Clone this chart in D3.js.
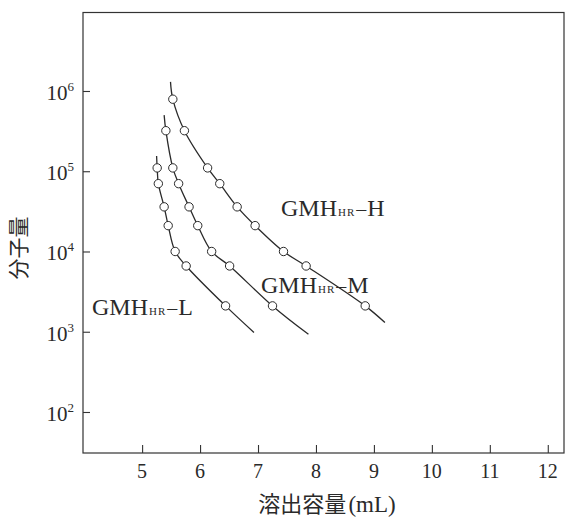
<!DOCTYPE html>
<html>
<head>
<meta charset="utf-8">
<script src="https://cdn.jsdelivr.net/npm/d3@7"></script>
<style>
  html, body { margin: 0; padding: 0; background: #fff; }
  svg { display: block; }
</style>
</head>
<body>
<svg id="chart" width="565" height="519"></svg>
<script>
// ---- data ----
const molWeights = [790000, 320000, 110000, 70000, 36000, 21000, 10000, 6600, 2100];
const volH = [5.53, 5.73, 6.13, 6.34, 6.64, 6.95, 7.44, 7.83, 8.85];
const volM = [5.41, 5.53, 5.63, 5.81, 5.96, 6.20, 6.51, 7.25];
const volL = [5.26, 5.28, 5.38, 5.45, 5.57, 5.76, 6.44];
// calibration curve ends (start / end of drawn curve)
const curveEndsH = [[5.49, 1.3e6], [9.19, 1.3e3]];
const curveEndsM = [[5.38, 5.0e5], [7.87, 9.3e2]];
const curveEndsL = [[5.25, 1.55e5], [6.93, 9.8e2]];
const seriesNames = ["H", "M", "L"];
const xTicks = [5, 6, 7, 8, 9, 10, 11, 12];
const yTickExponents = [2, 3, 4, 5, 6];
const xTitleMain = "溶出容量";
const xTitleUnit = "(mL)";
const yTitle = "分子量";

// ---- layout ----
const L = 83, R = 564, T = 12.5, B = 453;
const svg = d3.select("#chart");
const ink = "#2a2a2a";
const serif = "'Liberation Serif', 'DejaVu Serif', serif";
const cjk = "'Noto Sans CJK JP', 'Noto Sans CJK SC', sans-serif";

const x = d3.scaleLinear().domain([3.98, 12.28]).range([L, R]);
const y = d3.scaleLog().domain([Math.pow(10, 1.489), Math.pow(10, 6.978)]).range([B, T]);

function buildSeries(vols, ends) {
  const pts = vols.map((v, i) => [v, molWeights[molWeights.length - vols.length + i]]);
  return { pts, curve: [ends[0], ...pts, ends[1]] };
}
const series = [
  buildSeries(volH, curveEndsH),
  buildSeries(volM, curveEndsM),
  buildSeries(volL, curveEndsL)
];

// frame
svg.append("rect")
  .attr("x", L).attr("y", T).attr("width", R - L).attr("height", B - T)
  .attr("fill", "none").attr("stroke", "#333").attr("stroke-width", 1.2);

// axes (ticks inward)
const xAxis = d3.axisBottom(x).tickValues(xTicks).tickSize(-8).tickFormat("");
const gx = svg.append("g").attr("transform", `translate(0,${B})`).call(xAxis);
gx.select(".domain").remove();
gx.selectAll(".tick line").attr("stroke", "#333").attr("stroke-width", 1.1);

const yTickVals = yTickExponents.map(e => Math.pow(10, e));
const yAxis = d3.axisLeft(y).tickValues(yTickVals).tickSize(-7).tickFormat("");
const gy = svg.append("g").attr("transform", `translate(${L},0)`).call(yAxis);
gy.select(".domain").remove();
gy.selectAll(".tick line").attr("stroke", "#333").attr("stroke-width", 1.1);

// x tick labels
svg.append("g").selectAll("text").data(xTicks).join("text")
  .attr("x", d => x(d)).attr("y", 478)
  .attr("text-anchor", "middle")
  .attr("font-family", serif).attr("font-size", 20).attr("fill", ink)
  .text(d => d);

// y tick labels 10^n
const yl = svg.append("g").selectAll("text").data(yTickExponents).join("text")
  .attr("x", 74).attr("y", d => y(Math.pow(10, d)) + 9)
  .attr("text-anchor", "end")
  .attr("font-family", serif).attr("font-size", 21).attr("fill", ink);
yl.append("tspan").text("10");
yl.append("tspan").attr("font-size", 13).attr("dy", -9).text(d => d);

// titles
const xt = svg.append("text")
  .attr("x", 327).attr("y", 512)
  .attr("text-anchor", "middle")
  .attr("font-family", cjk).attr("font-size", 22).attr("fill", ink);
xt.append("tspan").text(xTitleMain);
xt.append("tspan").attr("font-family", serif).attr("font-size", 23).attr("dx", 2).text(xTitleUnit);

svg.append("text")
  .attr("transform", "translate(26,248) rotate(-90)")
  .attr("text-anchor", "middle")
  .attr("font-family", cjk).attr("font-size", 21).attr("fill", ink)
  .text(yTitle);

// curves
const line = d3.line()
  .x(d => x(d[0])).y(d => y(d[1]))
  .curve(d3.curveCatmullRom.alpha(0.5));
svg.append("g").selectAll("path").data(series).join("path")
  .attr("d", d => line(d.curve))
  .attr("fill", "none").attr("stroke", ink).attr("stroke-width", 1.3);

// points
svg.append("g").selectAll("g").data(series).join("g")
  .selectAll("circle").data(d => d.pts).join("circle")
  .attr("cx", d => x(d[0])).attr("cy", d => y(d[1])).attr("r", 4.2)
  .attr("fill", "#fff").attr("stroke", ink).attr("stroke-width", 1);

// series labels
const labelPos = [[281, 215.5], [261, 292.5], [92, 315]];
const lab = svg.append("g").selectAll("text").data(seriesNames).join("text")
  .attr("x", (d, i) => labelPos[i][0]).attr("y", (d, i) => labelPos[i][1])
  .attr("font-family", serif).attr("font-size", 24).attr("fill", ink);
lab.append("tspan").text("GMH");
lab.append("tspan").attr("font-size", 11).attr("letter-spacing", 1).attr("dx", 1).text("HR");
lab.append("tspan").attr("font-size", 20).attr("dx", 1).text("–");
lab.append("tspan").attr("dx", 1).text(d => d);
</script>
</body>
</html>
